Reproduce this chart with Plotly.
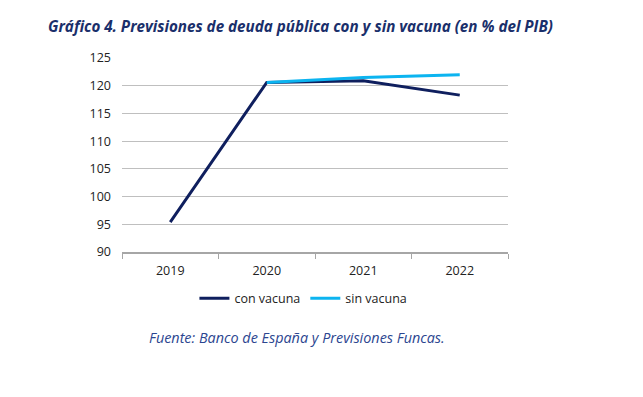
import plotly.graph_objects as go

years = ["2019", "2020", "2021", "2022"]
con_vacuna = [95.4, 120.6, 120.9, 118.3]
sin_vacuna = [None, 120.6, 121.5, 122.0]
y_ticks = [90, 95, 100, 105, 110, 115, 120, 125]

NAVY = "#0f1f5e"
LIGHT = "#0cb4f0"
FONT = "Open Sans"

fig = go.Figure()
fig.add_trace(go.Scatter(x=years, y=con_vacuna, mode="lines", name="con vacuna",
                         line=dict(color=NAVY, width=3)))
fig.add_trace(go.Scatter(x=years, y=sin_vacuna, mode="lines", name="sin vacuna",
                         line=dict(color=LIGHT, width=3)))

fig.update_layout(
    width=635, height=389,
    margin=dict(l=114, r=135, t=50, b=145),
    paper_bgcolor="white", plot_bgcolor="white",
    font=dict(family=FONT, size=12, color="#222222"),
    showlegend=True,
    legend=dict(orientation="h", x=0.47, xanchor="center", y=-0.24, yanchor="middle",
                font=dict(size=12.5, color="#222222"), itemwidth=30,
                traceorder="normal"),
    title=dict(text="<b><i>Gráfico 4. Previsiones de deuda pública con y sin vacuna (en % del PIB)</i></b>",
               x=40 / 635, xref="container", xanchor="left", y=0.952, yanchor="middle",
               font=dict(family=FONT, size=15.2, color="#1a2f6b")),
)

fig.update_xaxes(type="category", showgrid=False, showline=True, linecolor="#a6a6a6",
                 linewidth=1.5, ticks="outside", tickson="boundaries", ticklen=5,
                 tickcolor="#a6a6a6", tickfont=dict(size=12.5, color="#222222"),
                 range=[-0.5, 3.5], ticklabelstandoff=6)
fig.update_yaxes(range=[90, 125], tickvals=y_ticks, showgrid=True, gridcolor="#bfbfbf",
                 gridwidth=1, showline=False, zeroline=False, ticks="",
                 tickfont=dict(size=12.5, color="#222222"), ticklabelstandoff=10)

fig.add_annotation(text="<i>Fuente: Banco de España y Previsiones Funcas.</i>",
                   xref="paper", yref="paper", x=(297 - 122) / 386, y=-0.44,
                   xanchor="center", yanchor="middle", showarrow=False,
                   font=dict(family=FONT, size=14.4, color="#2b4590"))

fig.write_html("out.html")
